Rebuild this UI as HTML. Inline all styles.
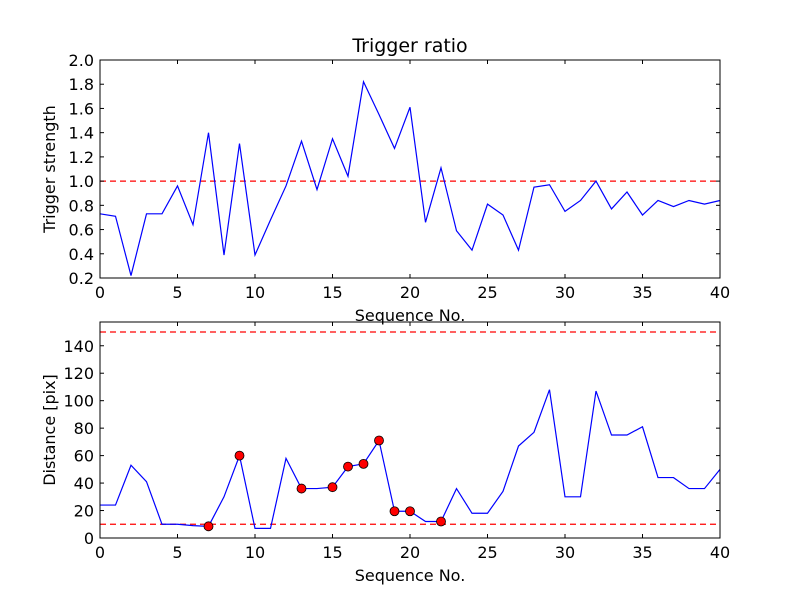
<!DOCTYPE html>
<html><head><meta charset="utf-8"><style>
body{margin:0;background:#fff}
svg text{font-family:"DejaVu Sans","Liberation Sans",sans-serif;fill:#000}
</style></head><body>
<svg id="c" width="800" height="600" viewBox="0 0 800 600" xmlns="http://www.w3.org/2000/svg"></svg>
<script>
const seq = [];
for (let i = 0; i <= 40; i++) seq.push(i);
const ratio = [0.73,0.71,0.22,0.73,0.73,0.96,0.64,1.40,0.39,1.31,0.39,0.68,0.96,1.33,0.93,1.35,1.04,1.82,1.55,1.27,1.61,0.66,1.11,0.59,0.43,0.81,0.72,0.43,0.95,0.97,0.75,0.84,1.0,0.77,0.91,0.72,0.84,0.79,0.84,0.81,0.84];
const dist = [24,24,53,41,10,10,9,8.5,30,60,7,7,58,36,36,37,52,54,71,19.5,19.5,12,12,36,18,18,34,67,77,108,30,30,107,75,75,81,44,44,36,36,50];
const flagged = [7,9,13,15,16,17,18,19,20,22];
const xTicks = [0,5,10,15,20,25,30,35,40];
const topYTicks = [0.2,0.4,0.6,0.8,1.0,1.2,1.4,1.6,1.8,2.0];
const botYTicks = [0,20,40,60,80,100,120,140];
const ratioThreshold = [1.0];
const distThresholds = [10,150];

const svg = document.getElementById('c');
const NS = 'http://www.w3.org/2000/svg';
function mk(tag, attrs, parent) {
  const e = document.createElementNS(NS, tag);
  for (const k in attrs) e.setAttribute(k, attrs[k]);
  (parent || svg).appendChild(e);
  return e;
}
const L = 100, R = 720;
const x = v => L + (v - 0) / 40 * (R - L);

function panel(name, top, bot, ymin, ymax, yt, fmt, series, thr, ylabel, title) {
  const y = v => bot - (v - ymin) / (ymax - ymin) * (bot - top);
  const g = mk('g', {});
  
  
  thr.forEach(t => {
    const l = mk('line', {x1: L, x2: R, y1: y(t), y2: y(t), stroke: '#ff0000', 'stroke-width': 1.2, 'stroke-dasharray': '6,4'}, g);
    
    
  });
  const pts = series.map((v, i) => x(seq[i]) + ',' + y(v)).join(' ');
  const pl = mk('polyline', {points: pts, fill: 'none', stroke: '#0000ff', 'stroke-width': 1.2}, g);
  
  
  const fr = mk('rect', {x: L, y: top, width: R - L, height: bot - top, fill: 'none', stroke: '#000', 'stroke-width': 1}, g);
  
  
  xTicks.forEach(t => {
    mk('line', {x1: x(t), x2: x(t), y1: bot, y2: bot - 4, stroke: '#000'}, g);
    mk('line', {x1: x(t), x2: x(t), y1: top, y2: top + 4, stroke: '#000'}, g);
    const tx = mk('text', {x: x(t), y: bot + 20, 'text-anchor': 'middle', 'font-size': 16}, g);
    tx.textContent = t;
    
    
  });
  yt.forEach(t => {
    mk('line', {x1: L, x2: L + 4, y1: y(t), y2: y(t), stroke: '#000'}, g);
    mk('line', {x1: R, x2: R - 4, y1: y(t), y2: y(t), stroke: '#000'}, g);
    const tx = mk('text', {x: L - 6, y: y(t) + 6, 'text-anchor': 'end', 'font-size': 16}, g);
    tx.textContent = fmt(t);
    
    
  });
  const xl = mk('text', {x: (L + R) / 2, y: bot + 43, 'text-anchor': 'middle', 'font-size': 16}, g);
  xl.textContent = 'Sequence No.';
  
  
  const yl = mk('text', {x: 0, y: 0, 'text-anchor': 'middle', 'font-size': 16, transform: `translate(${L - 45},${(top + bot) / 2}) rotate(-90)`}, g);
  yl.textContent = ylabel;
  
  
  if (title) {
    const tt = mk('text', {x: (L + R) / 2, y: top - 8, 'text-anchor': 'middle', 'font-size': 19}, g);
    tt.textContent = title;
    
    
  }
  return {g, y};
}
const p1 = panel('ratio', 60, 278, 0.2, 2.0, topYTicks, t => t.toFixed(1), ratio, ratioThreshold, 'Trigger strength', 'Trigger ratio');
const p2 = panel('distance', 322, 538, 0, 157.3, botYTicks, t => String(t), dist, distThresholds, 'Distance [pix]', null);
flagged.forEach(i => {
  const c = mk('circle', {cx: x(seq[i]), cy: p2.y(dist[i]), r: 4.5, fill: '#ff0000', stroke: '#000', 'stroke-width': 0.8}, p2.g);
  
  
});
</script>
</body></html>
